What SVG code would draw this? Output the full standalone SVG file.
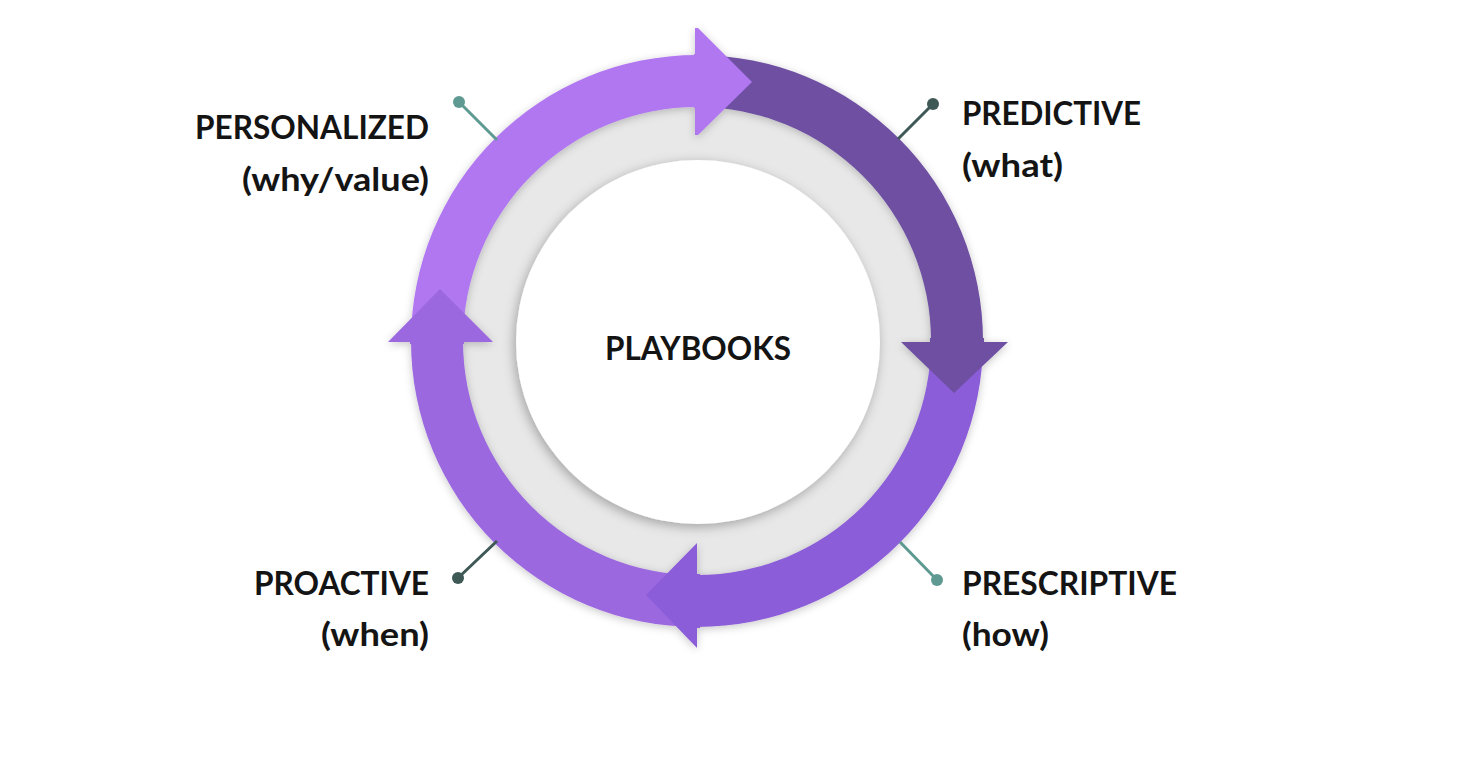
<svg xmlns="http://www.w3.org/2000/svg" width="1478" height="780" viewBox="0 0 1478 780">
  <defs>
    <filter id="softShadow" x="-20%" y="-20%" width="140%" height="140%">
      <feDropShadow dx="0" dy="2" stdDeviation="4" flood-color="#000" flood-opacity="0.22"/>
    </filter>
    <filter id="innerShadow" x="-20%" y="-20%" width="140%" height="140%">
      <feDropShadow dx="-2" dy="3" stdDeviation="6" flood-color="#000" flood-opacity="0.3"/>
    </filter>
    <style>
      .lbl { font-family: Lato, "Liberation Sans", Arial, sans-serif; font-weight: 700; font-size: 33px; fill: #141414; }
      .lead { stroke-width: 3; fill: none; }
      .teal { stroke: #5E9A92; }
      .tealdot { fill: #5E9A92; }
      .slate { stroke: #3E5856; }
      .slatedot { fill: #3E5856; }
    </style>
  </defs>
  <rect width="1478" height="780" fill="#FFFFFF"/>

  <g id="ring-background">
    <circle cx="697" cy="341" r="240" fill="#E8E8E8"/>
    <circle cx="698" cy="342" r="182" fill="#FFFFFF" filter="url(#innerShadow)"/>
  </g>

  <g id="cycle" filter="url(#softShadow)">
    <g id="segment-personalized">
      <path d="M 411 341 A 286 286 0 0 1 697 55 L 697 107 A 234 234 0 0 0 463 341 Z" fill="#B077F1"/>
    </g>
    <g id="segment-predictive">
      <path d="M 697 55 A 286 286 0 0 1 983 341 L 931 341 A 234 234 0 0 0 697 107 Z" fill="#6E4FA2"/>
    </g>
    <g id="segment-prescriptive">
      <path d="M 983 341 A 286 286 0 0 1 697 627 L 697 575 A 234 234 0 0 0 931 341 Z" fill="#8B5DD8"/>
    </g>
    <g id="segment-proactive">
      <path d="M 697 627 A 286 286 0 0 1 411 341 L 463 341 A 234 234 0 0 0 697 575 Z" fill="#9C68E0"/>
    </g>
    <g id="arrowheads">
      <polygon points="695,28 698,28 752,82 698,135 695,135 695,104 695,58" fill="#B077F1"/>
      <rect x="694" y="54" width="5" height="54" fill="#B077F1"/>
      <polygon points="901,342 1008,342 954,393" fill="#6E4FA2"/>
      <rect x="930" y="338" width="54" height="5" fill="#6E4FA2"/>
      <polygon points="697,543 646,595 697,648" fill="#8B5DD8"/>
      <rect x="695" y="574" width="5" height="54" fill="#8B5DD8"/>
      <polygon points="388,342 493,342 440,289" fill="#9C68E0"/>
      <rect x="410" y="340" width="54" height="4" fill="#9C68E0"/>
    </g>
  </g>

  <g id="connectors">
    <line class="lead teal" x1="459" y1="102" x2="497" y2="140"/>
    <circle class="tealdot" cx="459" cy="102" r="6"/>
    <line class="lead slate" x1="933" y1="104" x2="898" y2="139"/>
    <circle class="slatedot" cx="933" cy="104" r="6"/>
    <line class="lead slate" x1="458" y1="578" x2="497" y2="541"/>
    <circle class="slatedot" cx="458" cy="578" r="6"/>
    <line class="lead teal" x1="937" y1="580" x2="900" y2="542"/>
    <circle class="tealdot" cx="937" cy="580" r="6"/>
  </g>

  <g id="center-label">
    <text class="lbl" x="605" y="360" textLength="186" lengthAdjust="spacingAndGlyphs">PLAYBOOKS</text>
  </g>

  <g id="node-personalized">
    <text class="lbl" x="195" y="139" textLength="234" lengthAdjust="spacingAndGlyphs">PERSONALIZED</text>
    <text class="lbl" x="242" y="191" textLength="187" lengthAdjust="spacingAndGlyphs">(why/value)</text>
  </g>
  <g id="node-predictive">
    <text class="lbl" x="962" y="125" textLength="179" lengthAdjust="spacingAndGlyphs">PREDICTIVE</text>
    <text class="lbl" x="962" y="177" textLength="101" lengthAdjust="spacingAndGlyphs">(what)</text>
  </g>
  <g id="node-proactive">
    <text class="lbl" x="254" y="595" textLength="175" lengthAdjust="spacingAndGlyphs">PROACTIVE</text>
    <text class="lbl" x="321" y="646" textLength="108" lengthAdjust="spacingAndGlyphs">(when)</text>
  </g>
  <g id="node-prescriptive">
    <text class="lbl" x="962" y="595" textLength="215" lengthAdjust="spacingAndGlyphs">PRESCRIPTIVE</text>
    <text class="lbl" x="962" y="646" textLength="87" lengthAdjust="spacingAndGlyphs">(how)</text>
  </g>
</svg>
